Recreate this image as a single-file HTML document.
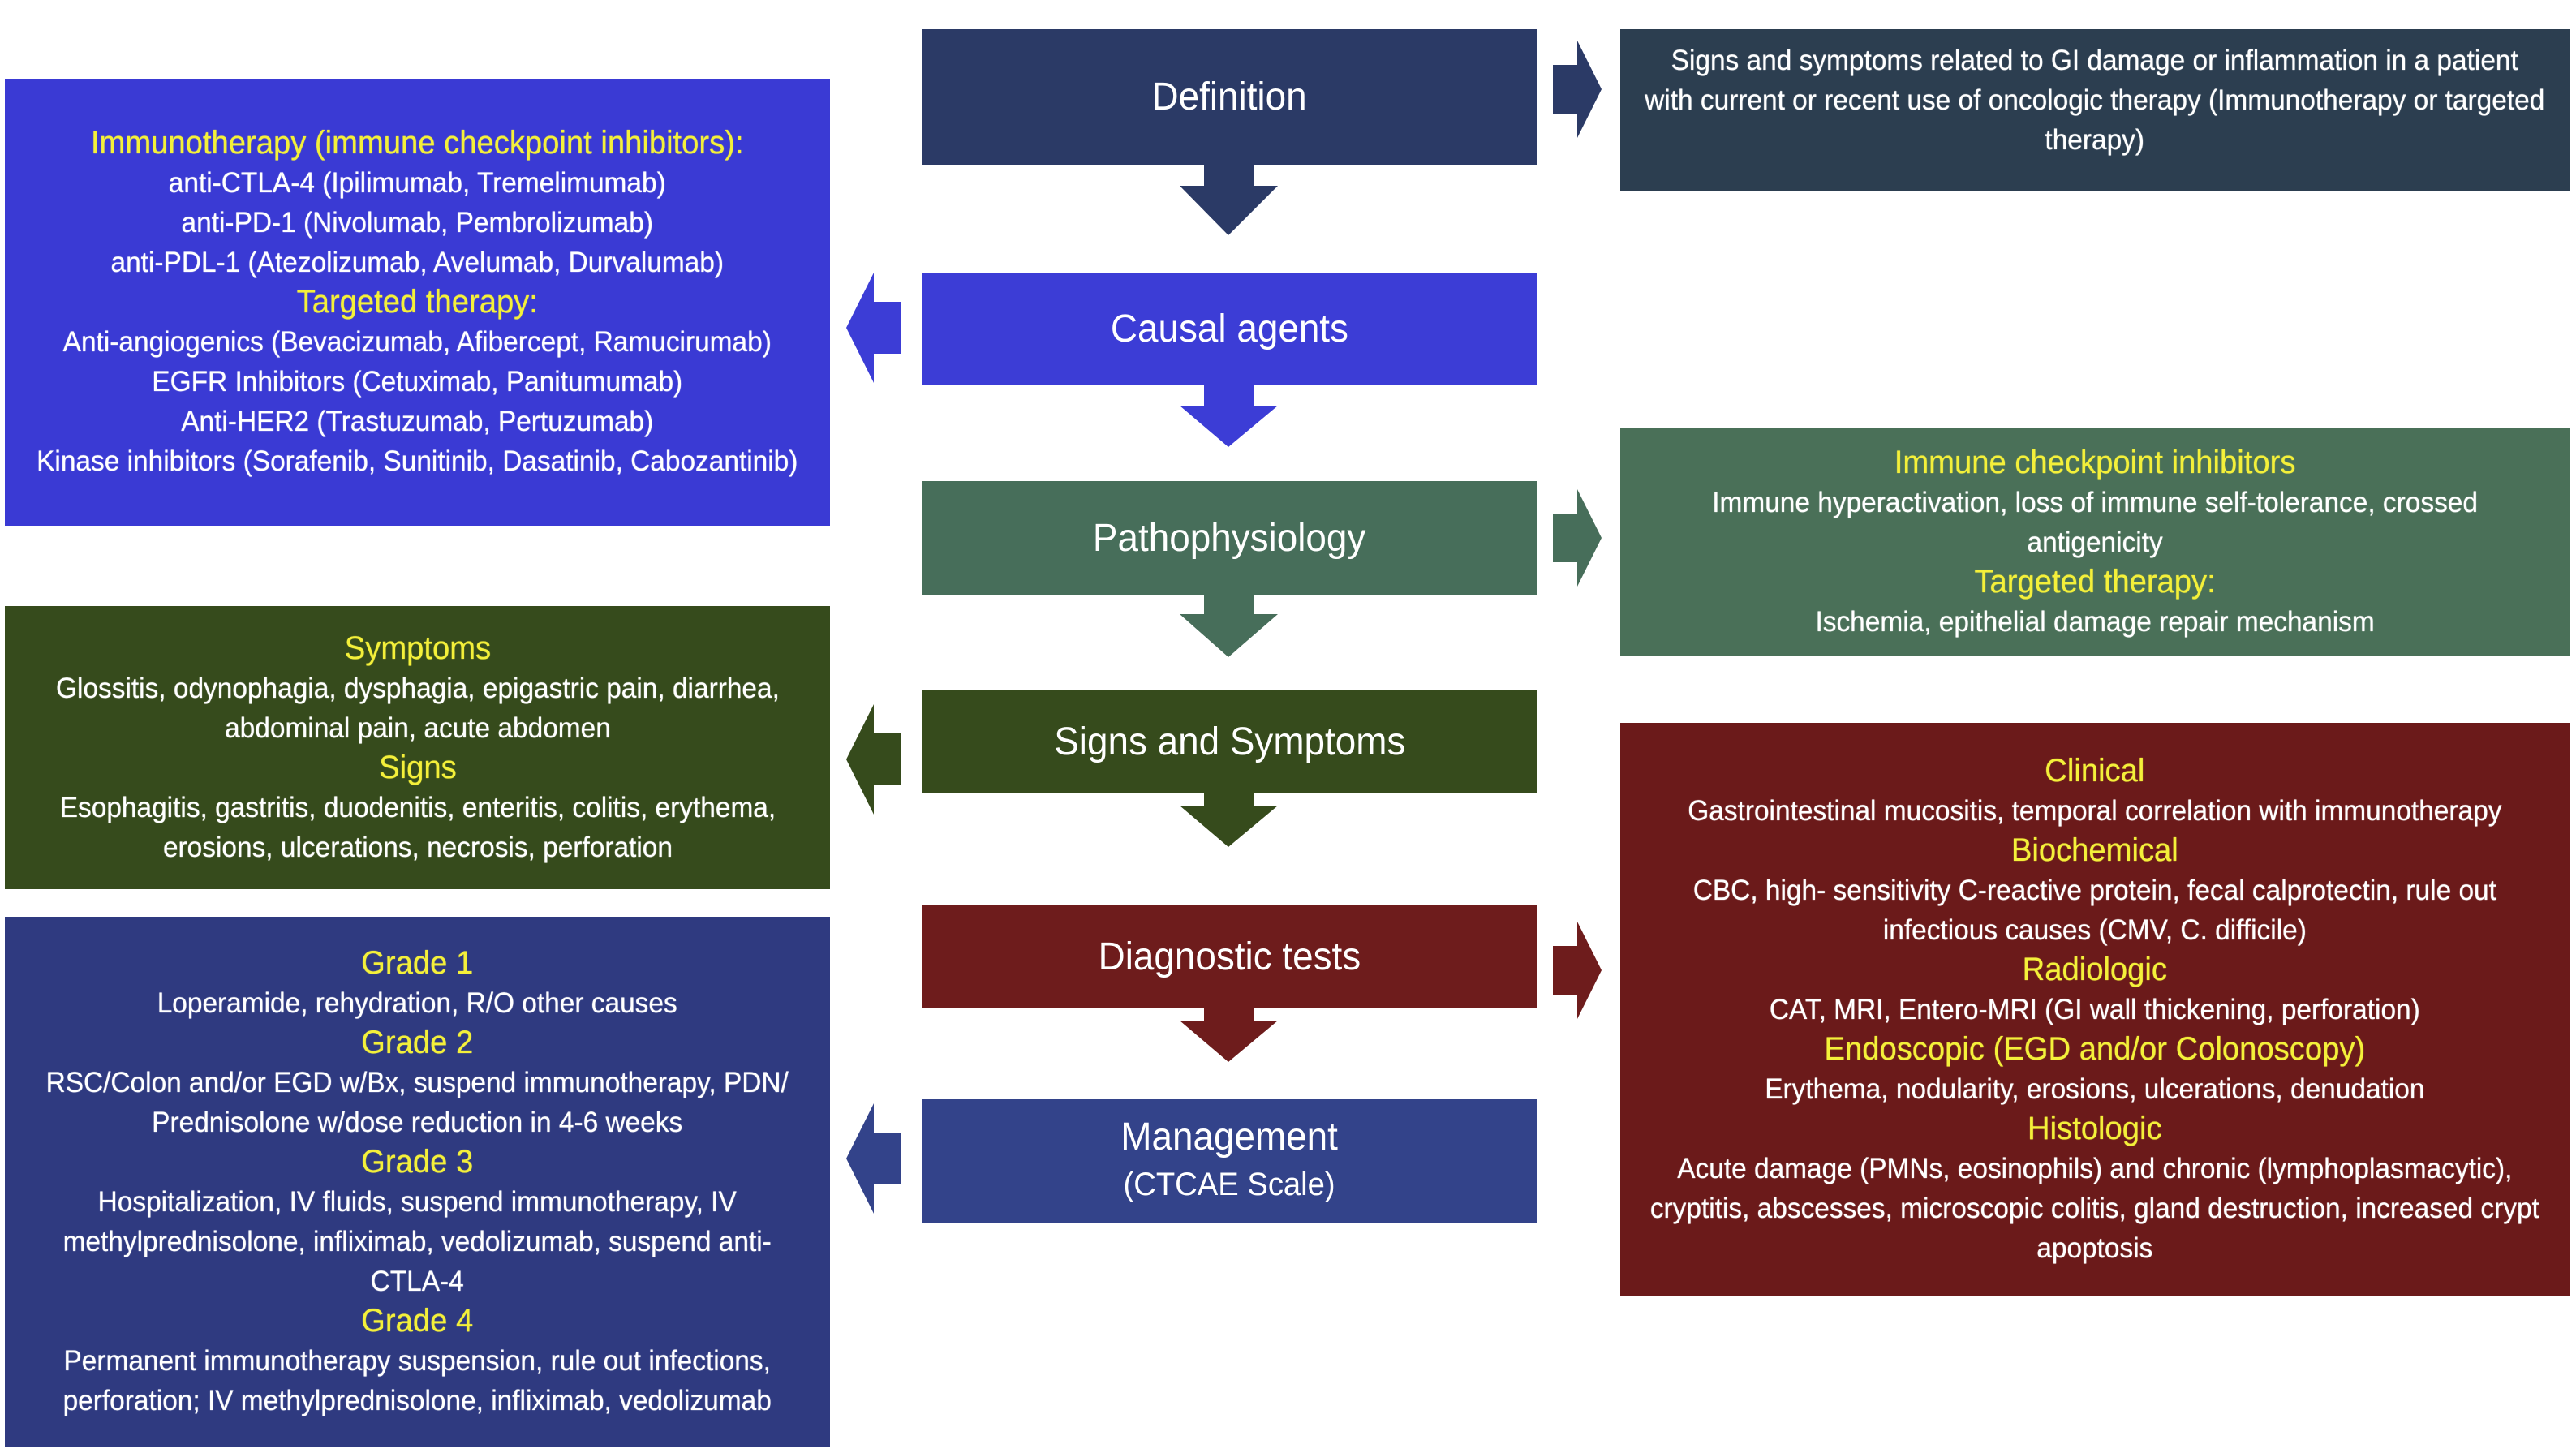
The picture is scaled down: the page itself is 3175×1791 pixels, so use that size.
<!DOCTYPE html>
<html><head><meta charset="utf-8"><style>
html,body{margin:0;padding:0;background:#fff;}
body{width:3175px;height:1791px;position:relative;overflow:hidden;font-family:"Liberation Sans",sans-serif;}
.b{position:absolute;display:flex;flex-direction:column;justify-content:center;align-items:center;text-align:center;color:#fff;white-space:nowrap;}
.b>.w{transform:scaleX(0.955);transform-origin:center;display:flex;flex-direction:column;align-items:center;}
.c{font-size:48px;}
.s{font-size:35px;line-height:49px;text-shadow:0 0 1px #fff;}
.y{color:#f4f03a;font-size:40px;text-shadow:0 0 1px #f4f03a;}
svg{position:absolute;left:0;top:0;}
</style></head><body>
<svg width="3175" height="1791">
<polygon points="1484,203 1545,203 1545,229 1575,229 1514,290 1454,229 1484,229" fill="#2b3a66"/>
<polygon points="1484,474 1545,474 1545,500 1575,500 1514,551 1454,500 1484,500" fill="#3c3dd6"/>
<polygon points="1484,733 1545,733 1545,757 1575,757 1514,810 1454,757 1484,757" fill="#476e5a"/>
<polygon points="1484,978 1545,978 1545,993 1575,993 1514,1044 1454,993 1484,993" fill="#364b1c"/>
<polygon points="1484,1243 1545,1243 1545,1258 1575,1258 1514,1309 1454,1258 1484,1258" fill="#6e1c1c"/>
<polygon points="1914,80 1944,80 1944,50 1974,110 1944,170 1944,140 1914,140" fill="#2b3a66"/>
<polygon points="1914,633 1944,633 1944,603 1974,663 1944,723 1944,693 1914,693" fill="#476e5a"/>
<polygon points="1914,1166 1944,1166 1944,1136 1974,1196 1944,1256 1944,1226 1914,1226" fill="#6e1c1c"/>
<polygon points="1110,372 1077,372 1077,336 1043,404 1077,472 1077,436 1110,436" fill="#3c3dd6"/>
<polygon points="1110,904 1077,904 1077,868 1043,936 1077,1004 1077,968 1110,968" fill="#364b1c"/>
<polygon points="1110,1396 1077,1396 1077,1360 1043,1428 1077,1496 1077,1460 1110,1460" fill="#33438a"/>
</svg>

<div class="b c" style="left:1136px;top:36px;width:759px;height:167px;background:#2b3a66;"><div class="w">Definition</div></div>
<div class="b c" style="left:1136px;top:336px;width:759px;height:138px;background:#3c3dd6;"><div class="w">Causal agents</div></div>
<div class="b c" style="left:1136px;top:593px;width:759px;height:140px;background:#476e5a;"><div class="w">Pathophysiology</div></div>
<div class="b c" style="left:1136px;top:850px;width:759px;height:128px;background:#364b1c;"><div class="w">Signs and Symptoms</div></div>
<div class="b c" style="left:1136px;top:1116px;width:759px;height:127px;background:#6e1c1c;"><div class="w">Diagnostic tests</div></div>
<div class="b c" style="left:1136px;top:1355px;width:759px;height:152px;background:#33438a;line-height:58px;"><div class="w"><div>Management</div><div style="font-size:40px;">(CTCAE Scale)</div></div></div>

<div class="b s" style="left:6px;top:97px;width:1017px;height:551px;background:#3a3ad4;"><div class="w">
<div class="y">Immunotherapy (immune checkpoint inhibitors):</div>
<div>anti-CTLA-4 (Ipilimumab, Tremelimumab)</div>
<div>anti-PD-1 (Nivolumab, Pembrolizumab)</div>
<div>anti-PDL-1 (Atezolizumab, Avelumab, Durvalumab)</div>
<div class="y">Targeted therapy:</div>
<div>Anti-angiogenics (Bevacizumab, Afibercept, Ramucirumab)</div>
<div>EGFR Inhibitors (Cetuximab, Panitumumab)</div>
<div>Anti-HER2 (Trastuzumab, Pertuzumab)</div>
<div>Kinase inhibitors (Sorafenib, Sunitinib, Dasatinib, Cabozantinib)</div>
</div></div>

<div class="b s" style="left:6px;top:747px;width:1017px;height:349px;background:#364b1c;"><div class="w">
<div class="y">Symptoms</div>
<div>Glossitis, odynophagia, dysphagia, epigastric pain, diarrhea,</div>
<div>abdominal pain, acute abdomen</div>
<div class="y">Signs</div>
<div>Esophagitis, gastritis, duodenitis, enteritis, colitis, erythema,</div>
<div>erosions, ulcerations, necrosis, perforation</div>
</div></div>

<div class="b s" style="left:6px;top:1130px;width:1017px;height:654px;background:#2f3a80;"><div class="w">
<div class="y">Grade 1</div>
<div>Loperamide, rehydration, R/O other causes</div>
<div class="y">Grade 2</div>
<div>RSC/Colon and/or EGD w/Bx, suspend immunotherapy, PDN/</div>
<div>Prednisolone w/dose reduction in 4-6 weeks</div>
<div class="y">Grade 3</div>
<div>Hospitalization, IV fluids, suspend immunotherapy, IV</div>
<div>methylprednisolone, infliximab, vedolizumab, suspend anti-</div>
<div>CTLA-4</div>
<div class="y">Grade 4</div>
<div>Permanent immunotherapy suspension, rule out infections,</div>
<div>perforation; IV methylprednisolone, infliximab, vedolizumab</div>
</div></div>

<div class="b s" style="left:1997px;top:36px;width:1170px;height:199px;background:#2c3e50;justify-content:flex-start;padding-top:14px;box-sizing:border-box;"><div class="w">
<div>Signs and symptoms related to GI damage or inflammation in a patient</div>
<div>with current or recent use of oncologic therapy (Immunotherapy or targeted</div>
<div>therapy)</div>
</div></div>

<div class="b s" style="left:1997px;top:528px;width:1170px;height:280px;background:#4a7058;"><div class="w">
<div class="y">Immune checkpoint inhibitors</div>
<div>Immune hyperactivation, loss of immune self-tolerance, crossed</div>
<div>antigenicity</div>
<div class="y">Targeted therapy:</div>
<div>Ischemia, epithelial damage repair mechanism</div>
</div></div>

<div class="b s" style="left:1997px;top:891px;width:1170px;height:707px;background:#6b1a1a;"><div class="w">
<div class="y">Clinical</div>
<div>Gastrointestinal mucositis, temporal correlation with immunotherapy</div>
<div class="y">Biochemical</div>
<div>CBC, high- sensitivity C-reactive protein, fecal calprotectin, rule out</div>
<div>infectious causes (CMV, C. difficile)</div>
<div class="y">Radiologic</div>
<div>CAT, MRI, Entero-MRI (GI wall thickening, perforation)</div>
<div class="y">Endoscopic (EGD and/or Colonoscopy)</div>
<div>Erythema, nodularity, erosions, ulcerations, denudation</div>
<div class="y">Histologic</div>
<div>Acute damage (PMNs, eosinophils) and chronic (lymphoplasmacytic),</div>
<div>cryptitis, abscesses, microscopic colitis, gland destruction, increased crypt</div>
<div>apoptosis</div>
</div></div>
</body></html>
